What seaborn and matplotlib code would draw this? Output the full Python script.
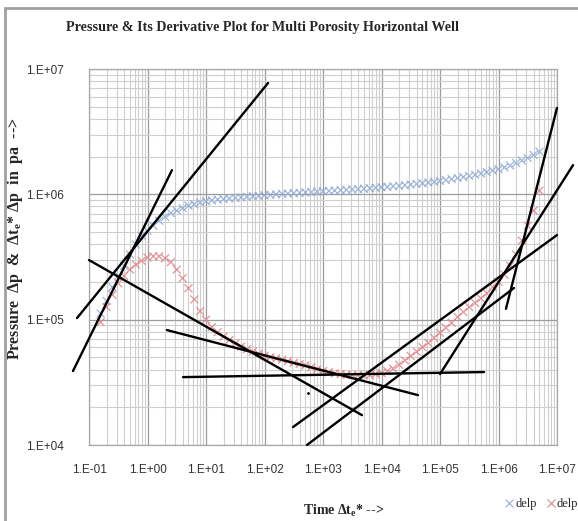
import matplotlib
matplotlib.use("Agg")
import matplotlib.pyplot as plt
import seaborn as sns
import numpy as np
import pandas as pd
from matplotlib.ticker import LogLocator, FixedLocator, FixedFormatter, NullFormatter
from matplotlib.patches import Rectangle

# time values (one every 0.1 log cycle)
time = [
    0.158, 0.2, 0.251, 0.316, 0.398, 0.501, 0.631, 0.794,
    1.0, 1.26, 1.58, 2.0, 2.51, 3.16, 3.98, 5.01, 6.31, 7.94,
    10, 12.6, 15.8, 20, 25.1, 31.6, 39.8, 50.1, 63.1, 79.4,
    100, 126, 158, 200, 251, 316, 398, 501, 631, 794,
    1.0e3, 1.26e3, 1.58e3, 2.0e3, 2.51e3, 3.16e3, 3.98e3, 5.01e3, 6.31e3, 7.94e3,
    1.0e4, 1.26e4, 1.58e4, 2.0e4, 2.51e4, 3.16e4, 3.98e4, 5.01e4, 6.31e4, 7.94e4,
    1.0e5, 1.26e5, 1.58e5, 2.0e5, 2.51e5, 3.16e5, 3.98e5, 5.01e5, 6.31e5, 7.94e5,
    1.0e6, 1.26e6, 1.58e6, 2.0e6, 2.51e6, 3.16e6, 3.98e6, 5.01e6,
]

# pressure drop (blue)
delp = [
    1.12e5, 1.41e5, 1.82e5, 2.24e5, 2.69e5, 3.31e5, 3.98e5, 4.68e5,
    5.13e5, 5.62e5, 6.17e5, 6.61e5, 7.08e5, 7.41e5, 7.76e5, 8.13e5, 8.32e5, 8.61e5,
    8.81e5, 8.95e5, 9.08e5, 9.18e5, 9.29e5, 9.38e5, 9.46e5, 9.55e5, 9.64e5, 9.72e5,
    9.82e5, 9.91e5, 1.000e6, 1.007e6, 1.014e6, 1.021e6, 1.028e6, 1.035e6, 1.042e6, 1.050e6,
    1.057e6, 1.064e6, 1.072e6, 1.079e6, 1.086e6, 1.094e6, 1.102e6, 1.109e6, 1.117e6, 1.127e6,
    1.138e6, 1.148e6, 1.159e6, 1.169e6, 1.183e6, 1.197e6, 1.211e6, 1.225e6, 1.242e6, 1.259e6,
    1.279e6, 1.300e6, 1.324e6, 1.349e6, 1.374e6, 1.403e6, 1.432e6, 1.466e6, 1.503e6, 1.549e6,
    1.585e6, 1.641e6, 1.698e6, 1.778e6, 1.862e6, 1.950e6, 2.065e6, 2.188e6,
]

# pressure derivative (red)
dpdt = [
    9.55e4, 1.26e5, 1.58e5, 1.95e5, 2.24e5, 2.51e5, 2.75e5, 2.95e5,
    3.13e5, 3.20e5, 3.20e5, 3.09e5, 2.88e5, 2.51e5, 2.14e5, 1.78e5, 1.45e5, 1.17e5,
    1.00e5, 8.71e4, 7.94e4, 7.33e4, 6.87e4, 6.46e4, 6.10e4, 5.82e4, 5.56e4, 5.35e4,
    5.15e4, 5.01e4, 4.90e4, 4.79e4, 4.66e4, 4.52e4, 4.42e4, 4.32e4, 4.17e4, 4.03e4,
    3.89e4, 3.80e4, 3.73e4, 3.68e4, 3.64e4, 3.61e4, 3.61e4, 3.61e4, 3.61e4, 3.67e4,
    3.76e4, 3.89e4, 4.07e4, 4.37e4, 4.73e4, 5.13e4, 5.56e4, 6.03e4, 6.53e4, 7.16e4,
    7.85e4, 8.61e4, 9.44e4, 1.05e5, 1.15e5, 1.26e5, 1.36e5, 1.48e5, 1.62e5, 1.82e5,
    2.00e5, 2.29e5, 2.69e5, 3.31e5, 4.27e5, 5.62e5, 7.41e5, 1.07e6,
]

# hand drawn straight lines: (t1, p1) -> (t2, p2)
line_t1 = [0.0624, 0.0532, 0.1, 2.15, 4.05, 307, 532, 1.0e5, 1.34e6]
line_p1 = [1.03e5, 3.89e4, 2.99e5, 8.26e4, 3.48e4, 1.39e4, 1.0e4, 3.68e4, 1.22e5]
line_t2 = [115, 2.62, 4.64e3, 4.2e4, 5.65e5, 1.0e7, 1.84e6, 1.88e7, 1.0e7]
line_p2 = [7.73e6, 1.56e6, 1.73e4, 2.5e4, 3.82e4, 4.73e5, 1.79e5, 1.71e6, 4.89e6]

x_ticks = [1e-1, 1e0, 1e1, 1e2, 1e3, 1e4, 1e5, 1e6, 1e7]
x_labels = ["1.E-01", "1.E+00", "1.E+01", "1.E+02", "1.E+03", "1.E+04", "1.E+05", "1.E+06", "1.E+07"]
y_ticks = [1e4, 1e5, 1e6, 1e7]
y_labels = ["1.E+04", "1.E+05", "1.E+06", "1.E+07"]

df = pd.DataFrame({
    "time": time * 2,
    "value": delp + dpdt,
    "series": ["delp"] * len(time) + ["delp'"] * len(time),
})

sns.set_style("white")
plt.rcParams["font.family"] = ["Liberation Serif", "DejaVu Serif"]
plt.rcParams["mathtext.default"] = "regular"

fig = plt.figure(figsize=(5.78, 5.21), dpi=100)
ax = fig.add_axes([89 / 578, 76 / 521, 468 / 578, 376 / 521])

sns.scatterplot(data=df, x="time", y="value", hue="series",
                palette={"delp": "#8eaad2", "delp'": "#dc8488"},
                marker="x", s=32, linewidth=0.9, alpha=0.85, ax=ax)

ax.set_xscale("log")
ax.set_yscale("log")
ax.set_xlim(1e-1, 1e7)
ax.set_ylim(1e4, 1e7)

# the straight-line fits
for i in range(len(line_t1)):
    ax.plot([line_t1[i], line_t2[i]], [line_p1[i], line_p2[i]],
            color="black", lw=1.7, clip_on=False, zorder=5)
ax.plot([555], [2.6e4], marker=".", color="black", ms=2, zorder=5)

ax.xaxis.set_major_locator(FixedLocator(x_ticks))
ax.xaxis.set_major_formatter(FixedFormatter(x_labels))
ax.yaxis.set_major_locator(FixedLocator(y_ticks))
ax.yaxis.set_major_formatter(FixedFormatter(y_labels))
ax.xaxis.set_minor_locator(LogLocator(base=10, subs=np.arange(2, 10), numticks=100))
ax.yaxis.set_minor_locator(LogLocator(base=10, subs=np.arange(2, 10), numticks=100))
ax.xaxis.set_minor_formatter(NullFormatter())
ax.yaxis.set_minor_formatter(NullFormatter())

ax.grid(True, which="major", color="#9c9c9c", lw=0.9)
ax.grid(True, which="minor", color="#cfcfcf", lw=0.8)
ax.set_axisbelow(True)
for sp in ax.spines.values():
    sp.set_color("#a8a8a8")
    sp.set_linewidth(0.9)

ax.tick_params(which="both", length=0)
ax.tick_params(axis="x", pad=14)
ax.tick_params(axis="y", pad=18)
for lab in ax.get_xticklabels() + ax.get_yticklabels():
    lab.set_family("Liberation Sans")
    lab.set_fontsize(8.5)
    lab.set_color("#333333")

ax.set_xlabel("Time Δ$t_e$* -->", fontsize=10, fontweight="bold")
ax.set_ylabel("Pressure  Δp  &  Δ$t_e$* Δp  in  pa  -->", fontsize=11.5, fontweight="bold")
ax.xaxis.set_label_coords(0.545, -0.155)
ax.yaxis.set_label_coords(-0.137, 0.55)

fig.text(262 / 578, 1 - 27 / 521,
         "Pressure & Its Derivative Plot for Multi Porosity Horizontal Well",
         ha="center", va="center", fontsize=10.2, fontweight="bold")

handles, labels = ax.get_legend_handles_labels()
ax.legend(handles, ["delp", "delp"], loc="center", bbox_to_anchor=(0.965, -0.158),
          ncol=2, frameon=False, handletextpad=0.0, columnspacing=0.6,
          handlelength=1.0, fontsize=9, markerscale=1.0)

fig.patches.append(Rectangle((5 / 578, -0.05), 1.2, 1 - 8 / 521 + 0.05,
                             transform=fig.transFigure, fill=False,
                             edgecolor="#a0a0a0", lw=2))

fig.savefig("out.png", dpi=100)
